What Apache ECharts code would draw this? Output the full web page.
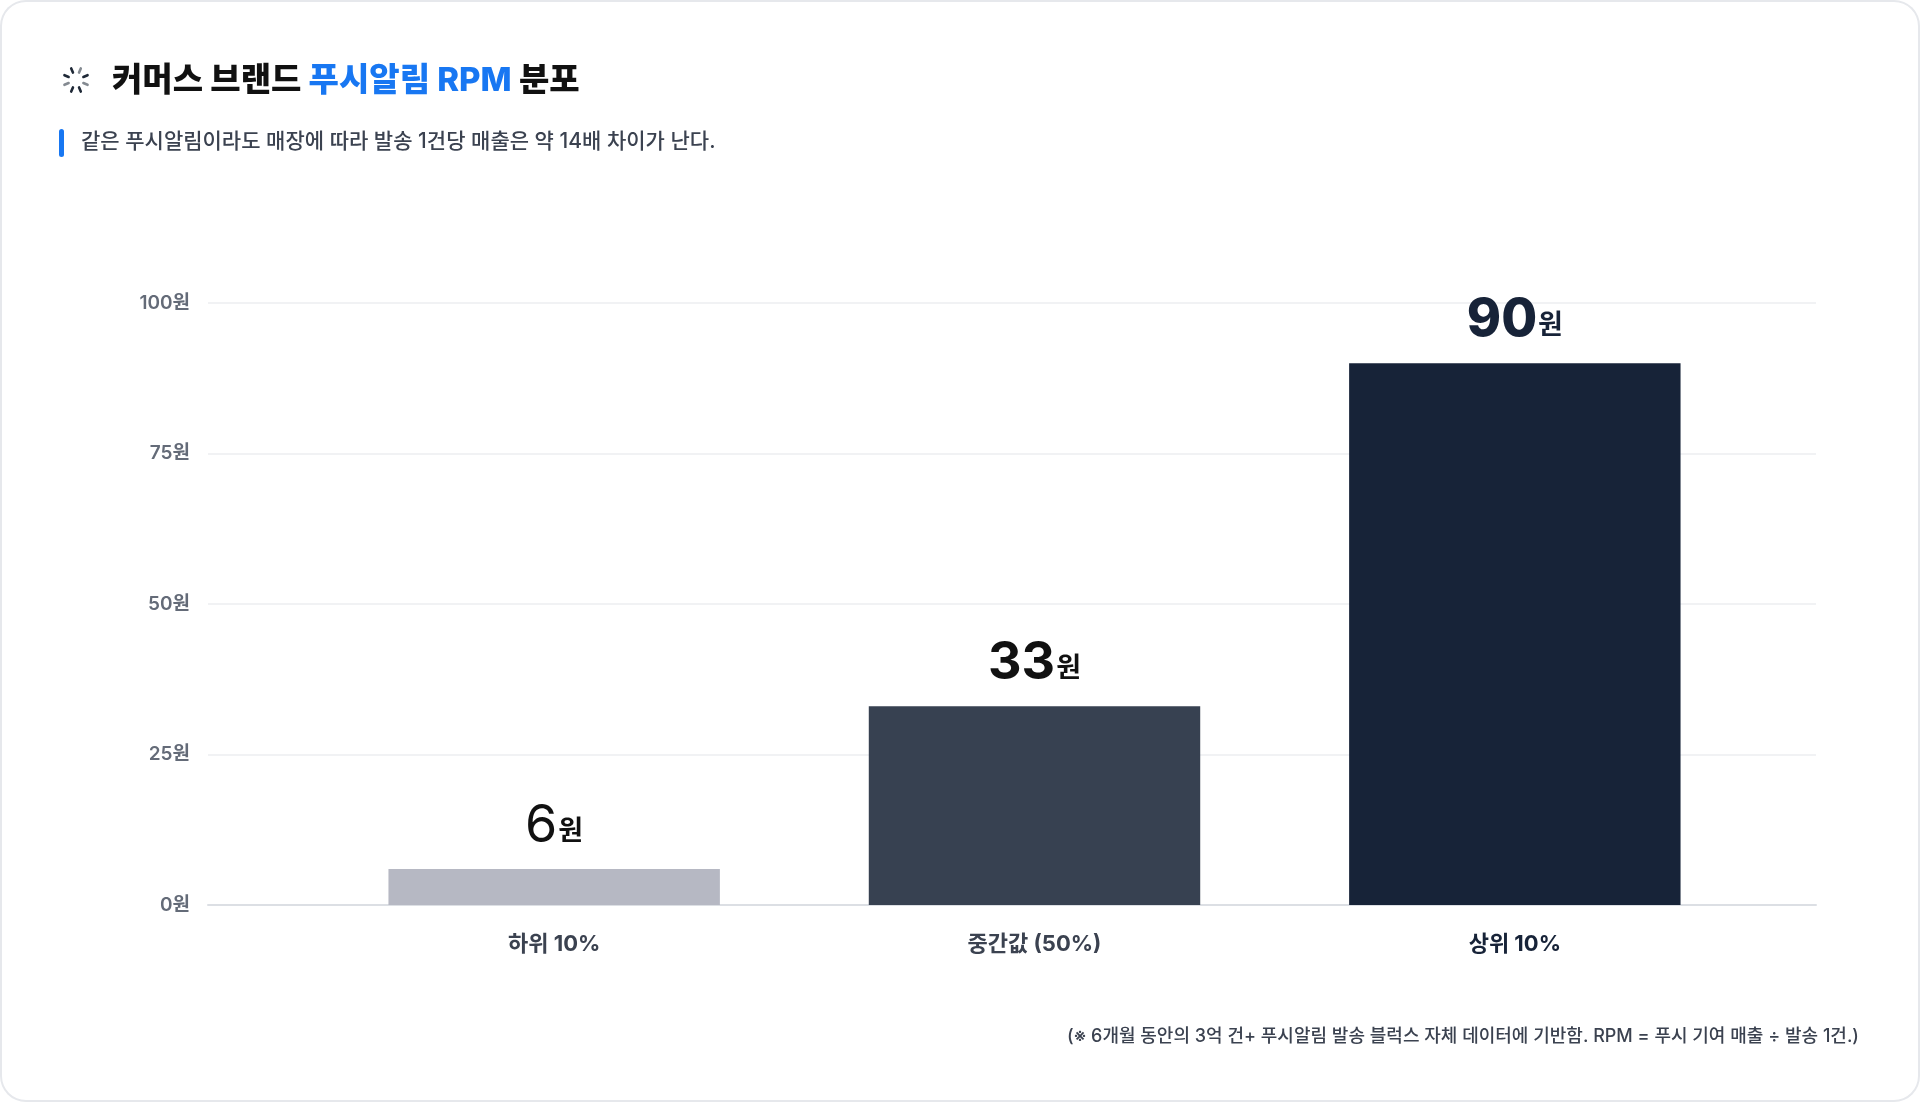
<!DOCTYPE html>
<html>
<head>
<meta charset="utf-8">
<script src="https://cdn.jsdelivr.net/npm/echarts@6/dist/echarts.min.js"></script>
<style>
  html, body { margin: 0; padding: 0; background: #ffffff; }
  #card {
    width: 1920px; height: 1102px; border-radius: 26px; background: #fff; overflow: hidden;
    box-shadow: inset 0 0 0 2px #e6e8ec;
  }
  #chart { width: 100%; height: 100%; }
</style>
</head>
<body>
<div id="card"><div id="chart"></div></div>
<script>
// 데이터
var categories = ['하위 10%', '중간값 (50%)', '상위 10%'];
var rpmValues = [6, 33, 90];
var yTicks = [0, 25, 50, 75, 100];

var barColors = ['#b6b8c3', '#374151', '#172338'];
var numColors = ['#111111', '#111111', '#172338'];
var numWeights = [400, 700, 800];
var catColors = ['#3b4250', '#3b4250', '#172338'];

var FONT = "Inter, 'Noto Sans CJK KR', sans-serif";

// 스피너 아이콘 (장식)
function spinnerIcon(cx, cy) {
    var items = [];
    for (var i = 0; i < 8; i++) {
        var a = i * Math.PI / 4 + Math.PI / 8;
        items.push({
            type: 'line',
            shape: {
                x1: cx + Math.cos(a) * 8, y1: cy + Math.sin(a) * 8,
                x2: cx + Math.cos(a) * 12.5, y2: cy + Math.sin(a) * 12.5
            },
            style: { stroke: '#1f2937', lineWidth: 2.6, lineCap: 'round', opacity: (i % 3 == 0) ? 0.55 : 1 }
        });
    }
    return items;
}

var barData = rpmValues.map(function (v, i) {
    return {
        value: v,
        itemStyle: { color: barColors[i] },
        label: {
            rich: {
                n: { fontSize: 52, fontWeight: numWeights[i], color: numColors[i], fontFamily: FONT, verticalAlign: 'bottom', lineHeight: 56 },
                u: { fontSize: 27, fontWeight: 700, color: numColors[i], fontFamily: FONT, verticalAlign: 'bottom', lineHeight: 56, padding: [0, 0, 7, 1] }
            }
        }
    };
});

var chart = echarts.init(document.getElementById('chart'));
chart.setOption({
    animation: false,
    title: {
        text: '커머스 브랜드 {b|푸시알림 RPM} 분포',
        left: 112,
        top: 65,
        padding: 0,
        textStyle: {
            fontSize: 33, fontWeight: 800, color: '#111111', fontFamily: FONT,
            rich: {
                b: { fontSize: 33, fontWeight: 800, color: '#1877f2', fontFamily: FONT }
            }
        }
    },
    graphic: spinnerIcon(76, 80).concat([
        {
            type: 'rect',
            shape: { x: 59, y: 129, width: 5, height: 28, r: 2.5 },
            style: { fill: '#1877f2' }
        },
        {
            type: 'text',
            x: 81, y: 142,
            style: {
                text: '같은 푸시알림이라도 매장에 따라 발송 1건당 매출은 약 14배 차이가 난다.',
                fontSize: 21, fontWeight: 500, fill: '#3b4250', fontFamily: FONT,
                textVerticalAlign: 'middle'
            }
        },
        {
            type: 'text',
            x: 1859, y: 1037,
            style: {
                text: '(※ 6개월 동안의 3억 건+ 푸시알림 발송 블럭스 자체 데이터에 기반함. RPM = 푸시 기여 매출 ÷ 발송 1건.)',
                fontSize: 18, fontWeight: 500, fill: '#3b4250', fontFamily: FONT,
                textAlign: 'right', textVerticalAlign: 'middle'
            }
        }
    ]),
    grid: [
        { left: 208, right: 104, top: 303, bottom: 197 },
        { left: 314, right: 165, top: 303, bottom: 197 }
    ],
    xAxis: [
        {
            gridIndex: 0, type: 'value', min: 0, max: 1,
            axisLine: { show: true, lineStyle: { color: '#dcdfe4', width: 2 } },
            axisTick: { show: false }, axisLabel: { show: false }, splitLine: { show: false }
        },
        {
            gridIndex: 1, type: 'category',
            data: categories.map(function (c, i) {
                return { value: c, textStyle: { color: catColors[i] } };
            }),
            axisLine: { show: false }, axisTick: { show: false },
            axisLabel: { fontSize: 22, fontWeight: 700, fontFamily: FONT, margin: 28 }
        }
    ],
    yAxis: [
        {
            gridIndex: 0, type: 'value',
            min: yTicks[0], max: yTicks[yTicks.length - 1], interval: yTicks[1] - yTicks[0],
            axisLine: { show: false }, axisTick: { show: false },
            axisLabel: { formatter: '{value}원', fontSize: 19, fontWeight: 600, color: '#646b78', fontFamily: FONT, margin: 18 },
            splitLine: { lineStyle: { color: '#eceef1', width: 1.5 } }
        },
        {
            gridIndex: 1, type: 'value',
            min: yTicks[0], max: yTicks[yTicks.length - 1],
            show: false
        }
    ],
    series: [
        {
            type: 'bar',
            xAxisIndex: 1, yAxisIndex: 1,
            barWidth: '69%',
            data: barData,
            label: {
                show: true,
                position: 'top',
                distance: 17,
                formatter: function (p) { return '{n|' + p.value + '}{u|원}'; }
            }
        }
    ]
});
</script>
</body>
</html>
